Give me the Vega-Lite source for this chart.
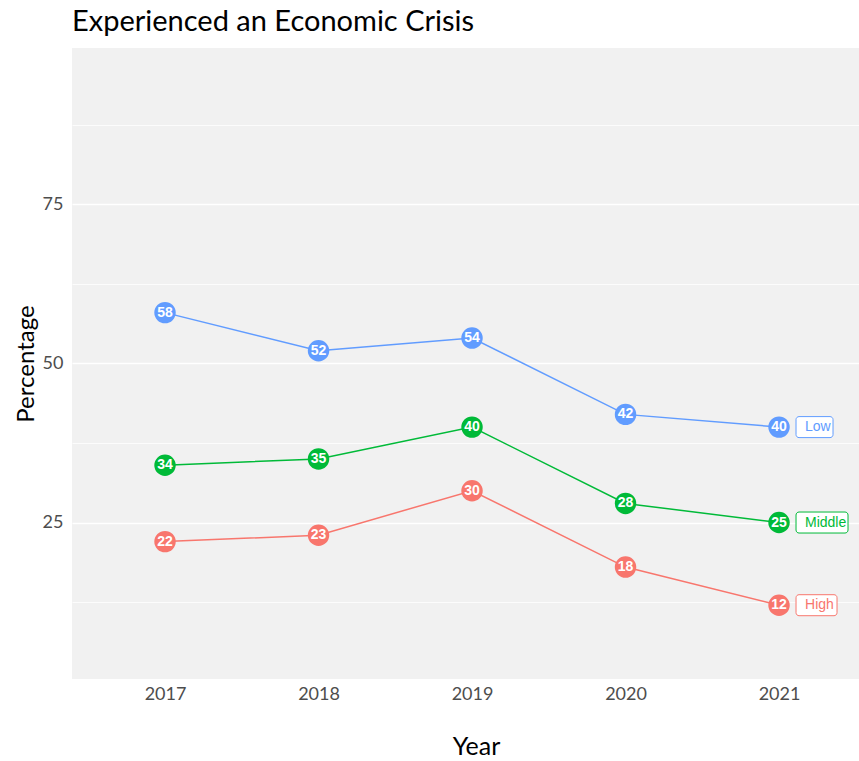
{
  "$schema": "https://vega.github.io/schema/vega-lite/v6.json",
  "width": 787,
  "height": 631,
  "autosize": {"type": "none"},
  "padding": {"left": 72, "top": 48, "right": 0, "bottom": 82},
  "background": "white",
  "title": {
    "text": "Experienced an Economic Crisis",
    "anchor": "start",
    "frame": "group",
    "font": "Lato",
    "fontSize": 29,
    "fontWeight": "normal",
    "color": "#000000",
    "offset": 11
  },
  "config": {
    "view": {"fill": "#F1F1F1", "stroke": null}
  },
  "data": {
    "values": [
      {"year": 2017, "pct": 22, "group": "High"},
      {"year": 2018, "pct": 23, "group": "High"},
      {"year": 2019, "pct": 30, "group": "High"},
      {"year": 2020, "pct": 18, "group": "High"},
      {"year": 2021, "pct": 12, "group": "High"},
      {"year": 2017, "pct": 34, "group": "Middle"},
      {"year": 2018, "pct": 35, "group": "Middle"},
      {"year": 2019, "pct": 40, "group": "Middle"},
      {"year": 2020, "pct": 28, "group": "Middle"},
      {"year": 2021, "pct": 25, "group": "Middle"},
      {"year": 2017, "pct": 58, "group": "Low"},
      {"year": 2018, "pct": 52, "group": "Low"},
      {"year": 2019, "pct": 54, "group": "Low"},
      {"year": 2020, "pct": 42, "group": "Low"},
      {"year": 2021, "pct": 40, "group": "Low"}
    ]
  },
  "encoding": {
    "x": {
      "field": "year",
      "type": "quantitative",
      "scale": {"domain": [2016.394, 2021.521], "nice": false, "zero": false},
      "axis": {
        "values": [2017, 2018, 2019, 2020, 2021],
        "format": "d",
        "title": "Year",
        "grid": false,
        "ticks": false,
        "domain": false,
        "labelFont": "Lato",
        "labelFontSize": 18,
        "labelColor": "#4D4D4D",
        "labelPadding": 6,
        "titleFont": "Lato",
        "titleFontSize": 25,
        "titleFontWeight": "normal",
        "titleColor": "#000000",
        "titlePadding": 31,
        "titleX": 404
      }
    },
    "y": {
      "field": "pct",
      "type": "quantitative",
      "scale": {"domain": [0.4, 99.6], "nice": false, "zero": false},
      "axis": {
        "values": [12.5, 25, 37.5, 50, 62.5, 75, 87.5],
        "labelExpr": "datum.value % 25 === 0 ? datum.label : ''",
        "title": "Percentage",
        "grid": true,
        "gridColor": "#FFFFFF",
        "gridWidth": {"condition": {"test": "datum.value % 25 === 0", "value": 1.4}, "value": 0.8},
        "ticks": false,
        "domain": false,
        "labelFont": "Lato",
        "labelFontSize": 18,
        "labelColor": "#4D4D4D",
        "labelPadding": 9,
        "titleFont": "Lato",
        "titleFontSize": 24,
        "titleFontWeight": "normal",
        "titleColor": "#000000",
        "titlePadding": 4
      }
    },
    "color": {
      "field": "group",
      "type": "nominal",
      "scale": {"domain": ["High", "Middle", "Low"], "range": ["#F8766D", "#00BA38", "#619CFF"]},
      "legend": null
    }
  },
  "layer": [
    {"mark": {"type": "line", "strokeWidth": 1.5}},
    {"mark": {"type": "point", "filled": true, "size": 460, "opacity": 1}},
    {
      "mark": {"type": "text", "font": "Liberation Sans", "fontWeight": "bold", "fontSize": 14},
      "encoding": {"text": {"field": "pct"}, "color": {"value": "#FFFFFF"}}
    },
    {
      "transform": [{"filter": "datum.year === 2021 && datum.group === 'Low'"}],
      "mark": {"type": "rect", "fill": "#FFFFFF", "strokeWidth": 1, "cornerRadius": 3, "xOffset": 17, "x2Offset": 54, "yOffset": -10.5, "y2Offset": 10.5},
      "encoding": {"x2": {"field": "year"}, "y2": {"field": "pct"}, "stroke": {"field": "group", "type": "nominal", "scale": {"domain": ["High", "Middle", "Low"], "range": ["#F8766D", "#00BA38", "#619CFF"]}, "legend": null}, "color": {"value": "#FFFFFF"}}
    },
    {
      "transform": [{"filter": "datum.year === 2021 && datum.group === 'Middle'"}],
      "mark": {"type": "rect", "fill": "#FFFFFF", "strokeWidth": 1, "cornerRadius": 3, "xOffset": 17, "x2Offset": 69, "yOffset": -10.5, "y2Offset": 10.5},
      "encoding": {"x2": {"field": "year"}, "y2": {"field": "pct"}, "stroke": {"field": "group", "type": "nominal", "scale": {"domain": ["High", "Middle", "Low"], "range": ["#F8766D", "#00BA38", "#619CFF"]}, "legend": null}, "color": {"value": "#FFFFFF"}}
    },
    {
      "transform": [{"filter": "datum.year === 2021 && datum.group === 'High'"}],
      "mark": {"type": "rect", "fill": "#FFFFFF", "strokeWidth": 1, "cornerRadius": 3, "xOffset": 17, "x2Offset": 58, "yOffset": -10.5, "y2Offset": 10.5},
      "encoding": {"x2": {"field": "year"}, "y2": {"field": "pct"}, "stroke": {"field": "group", "type": "nominal", "scale": {"domain": ["High", "Middle", "Low"], "range": ["#F8766D", "#00BA38", "#619CFF"]}, "legend": null}, "color": {"value": "#FFFFFF"}}
    },
    {
      "transform": [{"filter": "datum.year === 2021"}],
      "mark": {"type": "text", "font": "Liberation Sans", "fontSize": 14, "align": "left", "dx": 26},
      "encoding": {"text": {"field": "group"}}
    }
  ]
}
